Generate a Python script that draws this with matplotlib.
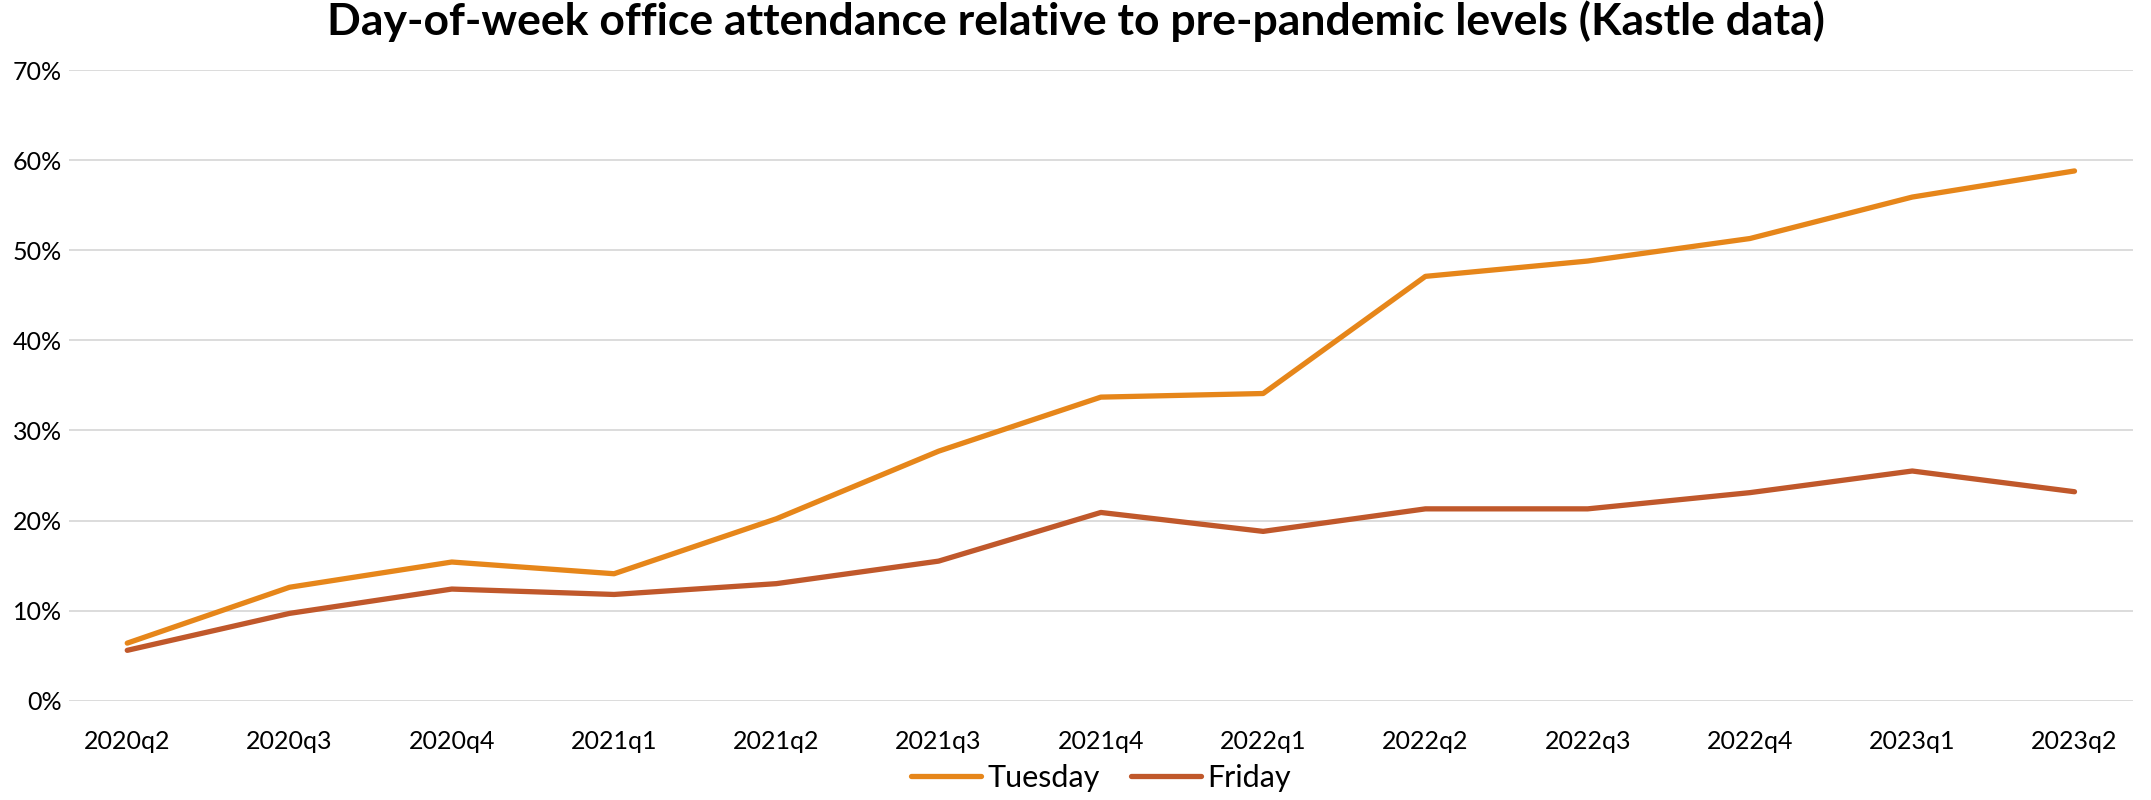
import matplotlib
matplotlib.use('Agg')
import matplotlib.pyplot as plt
from matplotlib.ticker import PercentFormatter

# quarterly office attendance vs pre-pandemic (Kastle)
quarters = ['2020q2', '2020q3', '2020q4', '2021q1', '2021q2', '2021q3', '2021q4',
            '2022q1', '2022q2', '2022q3', '2022q4', '2023q1', '2023q2']
tuesday = [6.4, 12.6, 15.4, 14.1, 20.2, 27.7, 33.7, 34.1, 47.1, 48.8, 51.3, 55.9, 58.8]
friday = [5.6, 9.7, 12.4, 11.8, 13.0, 15.5, 20.9, 18.8, 21.3, 21.3, 23.1, 25.5, 23.2]

plt.rcParams['font.family'] = ['Lato', 'DejaVu Sans']

fig = plt.figure(figsize=(21.51, 8), dpi=100)
ax = fig.add_axes([0.032, 0.124, 0.9596, 0.7885])

x = list(range(len(quarters)))
ax.plot(x, tuesday, color='#E6861A', lw=3.8, label='Tuesday', solid_capstyle='round')
ax.plot(x, friday, color='#C0582B', lw=3.8, label='Friday', solid_capstyle='round')

ax.set_ylim(0, 70)
ax.set_yticks(range(0, 71, 10))
ax.yaxis.set_major_formatter(PercentFormatter(decimals=0))
ax.set_xlim(-0.36, 12.36)
ax.set_xticks(x)
ax.set_xticklabels(quarters)
ax.grid(axis='y', color='#D9D9D9', lw=1.3)
ax.set_axisbelow(True)
for s in ax.spines.values():
    s.set_visible(False)
ax.tick_params(length=0, labelsize=18, colors='black')
ax.tick_params(axis='y', pad=5)
ax.tick_params(axis='x', pad=21)

fig.suptitle('Day-of-week office attendance relative to pre-pandemic levels (Kastle data)',
             fontsize=32, fontweight='bold', y=1.0)

ax.legend(loc='upper center', bbox_to_anchor=(0.5, -0.1), ncol=2, frameon=False,
          fontsize=22, handlelength=2.3, columnspacing=1.0, handletextpad=0.2,
          borderaxespad=0, borderpad=0)

fig.savefig('out.png', dpi=100)
